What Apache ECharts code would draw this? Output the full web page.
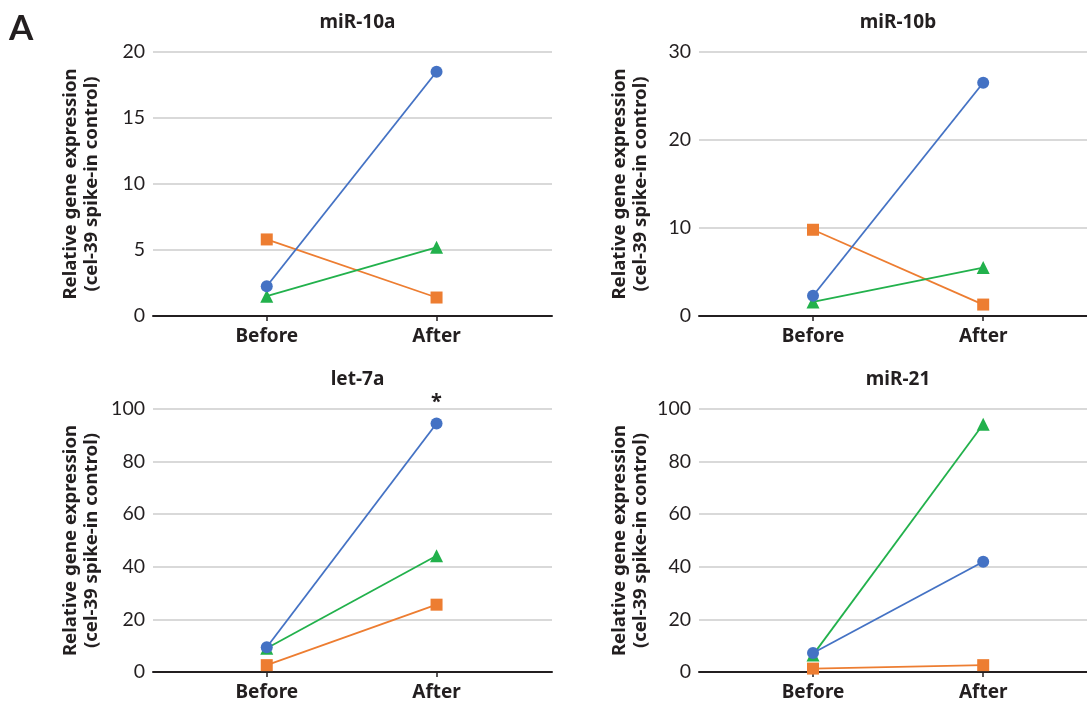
<!DOCTYPE html>
<html>
<head>
<meta charset="utf-8">
<script src="https://cdn.jsdelivr.net/npm/echarts@6/dist/echarts.min.js"></script>
<style>
  html, body { margin: 0; padding: 0; background: #fff; }
  #main { width: 1087px; height: 702px; }
</style>
</head>
<body>
<div id="main"></div>
<script>
var myChart = echarts.init(document.getElementById('main'));

// data
var categories = ['Before', 'After'];
var panelTitles = ['miR-10a', 'miR-10b', 'let-7a', 'miR-21'];
var yMax = [20, 30, 100, 100];
var yStep = [5, 10, 20, 20];

var blueValues = [
    [2.25, 18.5],   // miR-10a
    [2.3, 26.5],    // miR-10b
    [9.4, 94.5],    // let-7a
    [7.2, 41.9]     // miR-21
];
var orangeValues = [
    [5.8, 1.4],
    [9.8, 1.3],
    [2.6, 25.6],
    [1.3, 2.6]
];
var greenValues = [
    [1.5, 5.2],
    [1.6, 5.5],
    [9.0, 44.2],
    [6.5, 94.2]
];
// significance marks, one per point of the blue series
var blueMarks = [
    [null, null],
    [null, null],
    [null, '*'],
    [null, null]
];

var font = 'Lato, "Noto Sans", sans-serif';
var boldFont = '"Noto Sans", Lato, sans-serif';
var ink = '#231f20';
var yName = 'Relative gene expression\n(cel-39 spike-in control)';

var grids = [
    {left: 153, width: 399, top: 52, height: 264},
    {left: 699, width: 388, top: 52, height: 264},
    {left: 153, width: 399, top: 409, height: 264},
    {left: 699, width: 388, top: 409, height: 264}
];
var xMax = [1.68, 1.61, 1.68, 1.61];

var lineSeries = [
    {name: 'blue', values: blueValues, color: '#4472c4', symbol: 'circle', size: 12},
    {name: 'orange', values: orangeValues, color: '#ed7d31', symbol: 'rect', size: 12},
    {name: 'green', values: greenValues, color: '#22b14c', symbol: 'triangle', size: 13}
];

var option = {
    backgroundColor: '#fff',
    animation: false,
    title: [],
    grid: grids,
    xAxis: [],
    yAxis: [],
    series: [],
    graphic: [{
        type: 'text',
        left: 9,
        top: 11,
        style: {text: 'A', font: 'bold 35px ' + font, fill: ink}
    }]
};

for (var p = 0; p < 4; p++) {
    var g = grids[p];
    option.title.push({
        text: panelTitles[p],
        left: g.left + g.width / 2,
        textAlign: 'center',
        top: g.top - 44,
        textStyle: {fontFamily: boldFont, fontWeight: 'bold', fontSize: 19, color: ink}
    });
    option.xAxis.push({
        type: 'value',
        gridIndex: p,
        min: -0.67,
        max: xMax[p],
        splitLine: {show: false},
        axisLine: {show: true, lineStyle: {color: ink, width: 2}},
        axisTick: {show: true, customValues: [0, 1], length: 5, lineStyle: {color: ink, width: 1.5}},
        axisLabel: {
            customValues: [0, 1],
            margin: 11,
            formatter: function (v) { return categories[Math.round(v)]; },
            fontFamily: boldFont, fontWeight: 'bold', fontSize: 19, color: ink
        }
    });
    option.yAxis.push({
        type: 'value',
        gridIndex: p,
        min: 0,
        max: yMax[p],
        interval: yStep[p],
        name: yName,
        nameLocation: 'middle',
        nameGap: (p % 2 === 0) ? 51 : 48,
        nameTextStyle: {fontFamily: boldFont, fontWeight: 'bold', fontSize: 18.6, color: ink, lineHeight: 21},
        axisLine: {show: false},
        axisTick: {show: false},
        axisLabel: {fontFamily: font, fontSize: 19.5, color: ink, margin: 8},
        splitLine: {lineStyle: {color: '#d9d9d9', width: 2}}
    });
    lineSeries.forEach(function (s) {
        var data = s.values[p].map(function (v, i) {
            var item = {value: [i, v]};
            if (s.name === 'blue' && blueMarks[p][i]) {
                item.label = {
                    show: true, position: 'top', distance: 5, formatter: blueMarks[p][i],
                    fontFamily: boldFont, fontWeight: 'bold', fontSize: 20, color: ink
                };
            }
            return item;
        });
        option.series.push({
            name: s.name,
            type: 'line',
            xAxisIndex: p,
            yAxisIndex: p,
            data: data,
            symbol: s.symbol,
            symbolSize: s.size,
            showAllSymbol: true,
            lineStyle: {color: s.color, width: 1.8},
            itemStyle: {color: s.color},
            z: s.name === 'blue' ? 4 : 3
        });
    });
}

myChart.setOption(option);
</script>
</body>
</html>
